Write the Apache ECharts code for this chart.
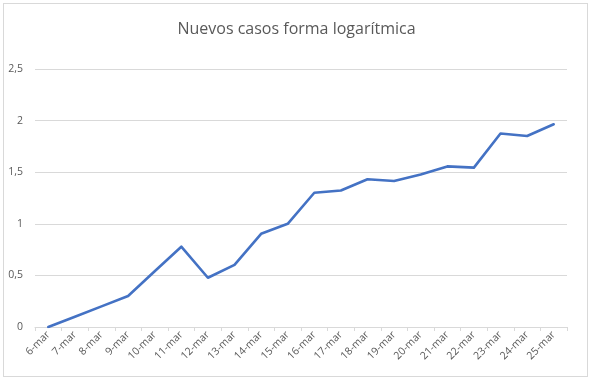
<!DOCTYPE html>
<html><head><meta charset="utf-8">
<script src="https://cdn.jsdelivr.net/npm/echarts@6/dist/echarts.min.js"></script>
<style>html,body{margin:0;padding:0;background:#fff}
#frame{position:absolute;left:3px;top:3px;width:585px;height:374px;border:1px solid #d9d9d9;box-sizing:border-box}
#c{position:absolute;left:0;top:0;width:593px;height:385px}</style>
</head><body><div id="frame"></div><div id="c"></div>
<script>
const categories = ['6-mar','7-mar','8-mar','9-mar','10-mar','11-mar','12-mar','13-mar','14-mar','15-mar','16-mar','17-mar','18-mar','19-mar','20-mar','21-mar','22-mar','23-mar','24-mar','25-mar'];
const values = [0, 0.1, 0.2, 0.3, 0.54, 0.778, 0.477, 0.602, 0.903, 1.0, 1.301, 1.322, 1.431, 1.415, 1.477, 1.556, 1.544, 1.875, 1.851, 1.964];
const yTicks = {min:0, max:2.5, interval:0.5};
const chart = echarts.init(document.getElementById('c'), null, {renderer:'canvas'});
chart.setOption({
  animation:false,
  title:{text:'Nuevos casos forma logarítmica', left:'center', top:16,
    textStyle:{color:'#595959', fontSize:16, fontWeight:'normal', fontFamily:'Open Sans'}},
  grid:{left:35, right:26, top:69, bottom:58, containLabel:false},
  xAxis:{type:'category', data:categories, boundaryGap:true,
    axisLine:{lineStyle:{color:'#d9d9d9', width:1}},
    axisTick:{show:true, alignWithLabel:false, length:4, lineStyle:{color:'#d9d9d9'}},
    axisLabel:{interval:0, rotate:45, color:'#595959', fontSize:10.5, fontFamily:'Open Sans', margin:6}},
  yAxis:{type:'value', min:yTicks.min, max:yTicks.max, interval:yTicks.interval,
    axisLine:{show:false}, axisTick:{show:false},
    splitLine:{lineStyle:{color:'#d9d9d9', width:1}},
    axisLabel:{color:'#595959', fontSize:10.5, fontFamily:'Open Sans', margin:12,
      formatter:v=>String(v).replace('.',',')}},
  series:[{type:'line', data:values, symbol:'none',
    lineStyle:{color:'#4472C4', width:2.6, cap:'round', join:'round'}}]
});
</script></body></html>
